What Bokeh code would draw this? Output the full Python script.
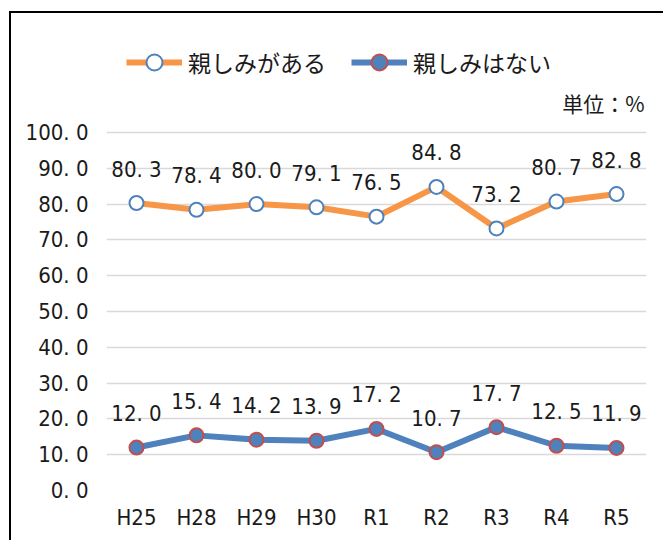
from bokeh.plotting import figure
from bokeh.models import (ColumnDataSource, FactorRange, Range1d, FixedTicker, Legend,
                          LegendItem, Label, CustomJSTickFormatter)
from bokeh.core.properties import value
from bokeh.embed import file_html
from bokeh.resources import INLINE

# ---- data ----
categories = ["H25", "H28", "H29", "H30", "R1", "R2", "R3", "R4", "R5"]
aru = [80.3, 78.4, 80.0, 79.1, 76.5, 84.8, 73.2, 80.7, 82.8]
nai = [12.0, 15.4, 14.2, 13.9, 17.2, 10.7, 17.7, 12.5, 11.9]
y_ticks = [0, 10, 20, 30, 40, 50, 60, 70, 80, 90, 100]
series_names = ["親しみがある", "親しみはない"]
unit_text = "単位：%"

NUM_FONT = "'Liberation Sans Narrow', 'DejaVu Sans Condensed', 'Arial Narrow', sans-serif"
JP_FONT = "'Noto Sans CJK JP', sans-serif"
TXT = "#1a1a1a"
ORANGE = "#F79646"
BLUE = "#4F81BD"
RED = "#C0504D"

# ---- layout constants (pixels) ----
W, H = 663, 540
B_LEFT, B_RIGHT, B_TOP, B_BOTTOM = 106, 17, 10, 50
PX_PER_UNIT = 3.58           # 100 units -> 358 px
frame_h = H - B_TOP - B_BOTTOM
y_top = frame_h / PX_PER_UNIT  # frame extends above 100 to hold the legend


def fmt(v):
    return f"{v:.1f}".replace(".", ". ")


src = ColumnDataSource(dict(
    cat=categories, aru=aru, nai=nai,
    aru_t=[fmt(v) for v in aru], nai_t=[fmt(v) for v in nai],
))

p = figure(width=W, height=H,
           x_range=FactorRange(*categories, range_padding=0),
           y_range=Range1d(0, y_top),
           output_backend="svg", toolbar_location=None,
           min_border_left=B_LEFT, min_border_right=B_RIGHT,
           min_border_top=B_TOP, min_border_bottom=B_BOTTOM)
p.outline_line_color = None
p.background_fill_color = None
p.border_fill_color = None
p.styles = {"box-shadow": "inset 9px 0 0 0 white, inset 0 11px 0 0 white, "
                          "inset 11px 0 0 0 black, inset 0 13px 0 0 black",
            "background-color": "white"}

ticker = FixedTicker(ticks=y_ticks)
p.xgrid.grid_line_color = None
p.ygrid.ticker = ticker
p.ygrid.grid_line_color = "#D9D9D9"
p.ygrid.grid_line_width = 1.5

p.yaxis.ticker = ticker
p.yaxis.formatter = CustomJSTickFormatter(code="return tick.toFixed(1).replace('.', '. ');")
for ax in (p.xaxis[0], p.yaxis[0]):
    ax.axis_line_color = None
    ax.major_tick_line_color = None
    ax.minor_tick_line_color = None
    ax.major_label_text_font = NUM_FONT
    ax.major_label_text_font_size = "22px"
    ax.major_label_text_color = TXT
p.yaxis.major_label_standoff = 12
p.xaxis.major_label_standoff = 8

l1 = p.line("cat", "aru", source=src, line_color=ORANGE, line_width=6, line_join="round")
s1 = p.scatter("cat", "aru", source=src, size=14, fill_color="white",
               line_color=BLUE, line_width=2)
l2 = p.line("cat", "nai", source=src, line_color=BLUE, line_width=6, line_join="round")
s2 = p.scatter("cat", "nai", source=src, size=14, fill_color=BLUE,
               line_color=RED, line_width=2)

for col_y, col_t in (("aru", "aru_t"), ("nai", "nai_t")):
    p.text("cat", col_y, text=col_t, source=src, text_font=value(NUM_FONT),
           text_font_size=value("22px"), text_align="center", text_baseline="middle",
           y_offset=-34, text_color=TXT)

legend = Legend(items=[LegendItem(label=series_names[0], renderers=[l1, s1]),
                       LegendItem(label=series_names[1], renderers=[l2, s2])],
                orientation="horizontal", location=(20, 408),
                glyph_width=56, glyph_height=40, label_standoff=6, spacing=25,
                padding=0, margin=0, border_line_color=None, background_fill_alpha=0,
                label_text_font=JP_FONT, label_text_font_size="23px",
                label_text_color=TXT)
p.add_layout(legend)

p.add_layout(Label(x=538, y=388, x_units="screen", y_units="screen", text=unit_text,
                   text_align="right", text_baseline="middle", text_font=JP_FONT,
                   text_font_size="21px", text_color=TXT))

open("out.html", "w").write(file_html(p, INLINE))
